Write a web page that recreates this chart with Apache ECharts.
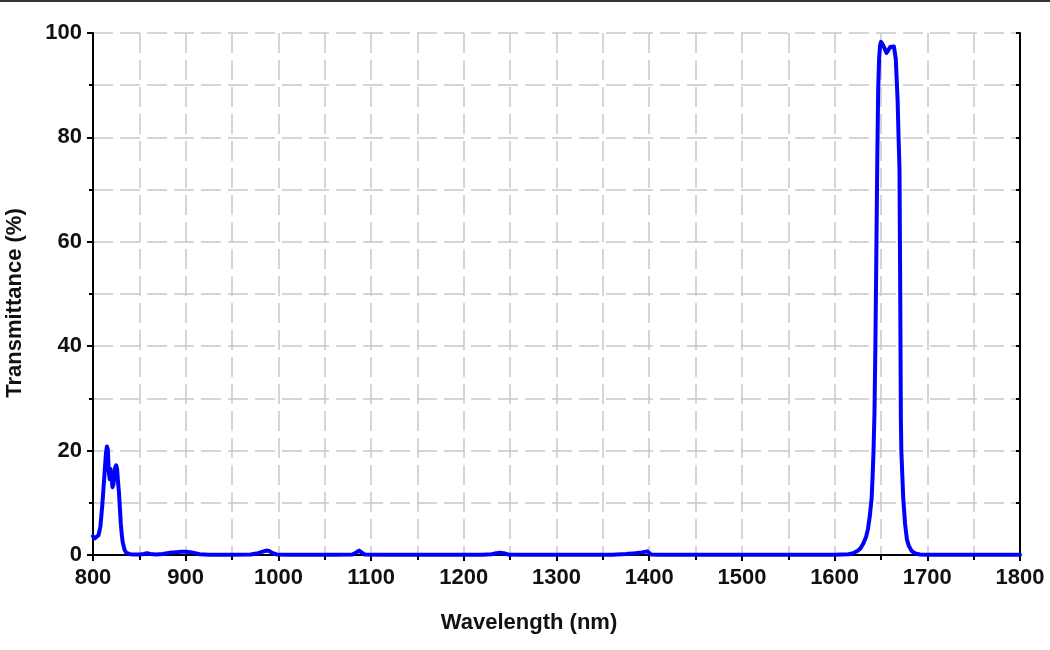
<!DOCTYPE html>
<html>
<head>
<meta charset="utf-8">
<script src="https://cdn.jsdelivr.net/npm/echarts@6/dist/echarts.min.js"></script>
<style>
  html, body { margin: 0; padding: 0; background: #fff; }
  #chart { width: 1050px; height: 650px; }
</style>
</head>
<body>
<div id="chart"></div>
<script>
// 波长 (nm)
const wavelength = [
  800, 802, 804, 806, 808, 810, 812, 813, 814, 815, 816, 817, 818, 819, 820,
  821, 822, 823, 824, 825, 826, 827, 828, 829, 830, 831, 832, 834, 836, 840,
  845, 850, 855, 858, 862, 868, 875, 880, 885, 890, 895, 900, 905, 910, 915,
  925, 950, 970, 978, 984, 987, 990, 994, 998, 1010, 1060, 1080, 1084, 1087, 1090,
  1093, 1110, 1220, 1230, 1235, 1239, 1243, 1248, 1260, 1360, 1375, 1385, 1392, 1398, 1400,
  1402, 1410, 1600, 1615, 1620, 1625, 1628, 1631, 1634, 1636, 1638, 1640, 1641, 1642, 1643,
  1644, 1645, 1646, 1647, 1648, 1649, 1650, 1652, 1654, 1656, 1658, 1660, 1662, 1664, 1666,
  1667, 1668, 1669, 1670, 1670.8, 1671.5, 1672, 1674, 1676, 1678, 1680, 1683, 1687, 1692, 1700,
  1800
]
// 透过率 (%)
const transmittance = [
  3.6, 3.2, 3.1, 3.8, 5.5, 9.5, 14.5, 17, 19.5, 20.8, 20.2, 16, 14.5, 16.5, 15,
  13, 13.5, 15, 16.8, 17.2, 16.5, 14, 12, 9, 6, 4, 2.5, 1, 0.4, 0.15,
  0.1, 0.1, 0.2, 0.35, 0.2, 0.1, 0.2, 0.35, 0.5, 0.55, 0.6, 0.6, 0.55, 0.35, 0.15,
  0.05, 0.05, 0.1, 0.35, 0.7, 0.85, 0.75, 0.35, 0.1, 0.05, 0.05, 0.1, 0.5, 0.85, 0.45,
  0.1, 0.05, 0.05, 0.15, 0.35, 0.45, 0.35, 0.1, 0.05, 0.05, 0.2, 0.35, 0.5, 0.7, 0.55,
  0.1, 0.05, 0.05, 0.15, 0.35, 0.8, 1.3, 2.2, 3.5, 5, 7.5, 11, 15, 20, 27,
  40, 57, 75, 89, 95, 97.5, 98.3, 97.8, 97, 96.2, 96.5, 97.3, 97.5, 97.4, 95,
  91, 87, 80, 74, 50, 26, 20, 11, 6, 3, 1.8, 0.8, 0.3, 0.1, 0.05,
  0.05
]
// 坐标轴范围
const xTicks = [800, 1800, 100]
const yTicks = [0, 100, 20]

const data = wavelength.map((w, i) => [w, transmittance[i]])

const font = '"Liberation Sans", Arial, sans-serif'
const dash = { color: '#c8c8c8', width: 1.5, type: [20, 7] }
const frame = { show: true, lineStyle: { color: '#000', width: 2 } }

let myChart = echarts.init(document.getElementById('chart'))
myChart.setOption({
  animation: false,
  grid: { left: 93, right: 30, top: 33, bottom: 95 },
  xAxis: [{
    type: 'value', min: xTicks[0], max: xTicks[1], interval: xTicks[2],
    axisLine: frame,
    axisTick: { show: true, inside: false, length: 6, lineStyle: { color: '#000', width: 2 } },
    minorTick: { show: true, splitNumber: 2, length: 4, lineStyle: { color: '#000', width: 2 } },
    axisLabel: { margin: 12, fontSize: 22, fontWeight: 'bold', color: '#111', fontFamily: font, formatter: v => String(v) },
    splitLine: { show: true, lineStyle: dash },
    minorSplitLine: { show: true, lineStyle: dash }
  }, {
    type: 'value', position: 'top', min: xTicks[0], max: xTicks[1], interval: 50,
    axisLine: frame,
    axisTick: { show: true, inside: true, length: 5, lineStyle: { color: '#000', width: 2 } },
    axisLabel: { show: false },
    splitLine: { show: false }
  }],
  yAxis: [{
    type: 'value', min: yTicks[0], max: yTicks[1], interval: yTicks[2],
    axisLine: frame,
    axisTick: { show: true, inside: false, length: 6, lineStyle: { color: '#000', width: 2 } },
    minorTick: { show: true, splitNumber: 2, length: 4, lineStyle: { color: '#000', width: 2 } },
    axisLabel: { margin: 11, fontSize: 22, fontWeight: 'bold', color: '#111', fontFamily: font, formatter: v => String(v) },
    splitLine: { show: true, lineStyle: dash },
    minorSplitLine: { show: true, lineStyle: dash }
  }, {
    type: 'value', position: 'right', min: yTicks[0], max: yTicks[1], interval: 10,
    axisLine: frame,
    axisTick: { show: true, inside: true, length: 4, lineStyle: { color: '#000', width: 2 } },
    axisLabel: { show: false },
    splitLine: { show: false }
  }],
  graphic: [
    { type: 'rect', left: 0, top: 0, shape: { width: 1050, height: 2 }, style: { fill: '#333' } },
    {
      type: 'text', x: 529, y: 623,
      style: { text: 'Wavelength (nm)', font: 'bold 22px ' + font, fill: '#111', textAlign: 'center', textVerticalAlign: 'middle' }
    },
    {
      type: 'text', x: 15, y: 303, rotation: Math.PI / 2,
      style: { text: 'Transmittance (%)', font: 'bold 22px ' + font, fill: '#111', textAlign: 'center', textVerticalAlign: 'middle' }
    }
  ],
  series: [{
    type: 'line',
    data: data,
    showSymbol: false,
    lineStyle: { color: '#0000ff', width: 4, join: 'round', cap: 'round' },
    itemStyle: { color: '#0000ff' },
    z: 5
  }]
})
</script>
</body>
</html>
